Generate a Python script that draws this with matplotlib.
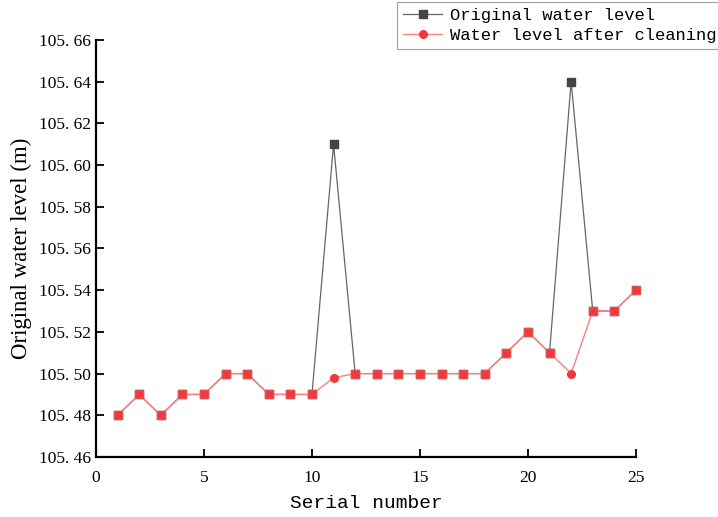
import matplotlib
matplotlib.use("Agg")
import matplotlib.pyplot as plt
import numpy as np

serial = list(range(1, 26))
original = [105.48, 105.49, 105.48, 105.49, 105.49, 105.50, 105.50, 105.49, 105.49, 105.49,
            105.61, 105.50, 105.50, 105.50, 105.50, 105.50, 105.50, 105.50, 105.51, 105.52,
            105.51, 105.64, 105.53, 105.53, 105.54]
cleaned = [105.48, 105.49, 105.48, 105.49, 105.49, 105.50, 105.50, 105.49, 105.49, 105.49,
           105.498, 105.50, 105.50, 105.50, 105.50, 105.50, 105.50, 105.50, 105.51, 105.52,
           105.51, 105.50, 105.53, 105.53, 105.54]
yticks = [105.46, 105.48, 105.50, 105.52, 105.54, 105.56, 105.58, 105.60, 105.62, 105.64, 105.66]
xticks = [0, 5, 10, 15, 20, 25]

fig = plt.figure(figsize=(7.18, 5.17), dpi=100)
ax = fig.add_axes([0.1337, 0.116, 0.752, 0.807])

red = "#f0393f"
ax.plot(serial, original, color="#666666", lw=0.9, marker="s", ms=5.2,
        mfc="#444444", mec="#444444", label="Original water level", zorder=2)
ax.plot(serial, cleaned, color="#ff8080", lw=1.0, marker="o", ms=5.5,
        mfc=red, mec=red, label="Water level after cleaning", zorder=3)
same = [i for i in range(len(serial)) if original[i] == cleaned[i]]
ax.plot([serial[i] for i in same], [cleaned[i] for i in same], ls="none", marker="s",
        ms=5.2, mfc=red, mec="#e05050", zorder=4, clip_on=False)

ax.set_xlim(0, 25)
ax.set_ylim(105.46, 105.66)
ax.set_xticks(xticks)
ax.set_yticks(yticks)
ax.set_yticklabels([("%.2f" % v).replace(".", ". ") for v in yticks])
for lab in ax.get_xticklabels() + ax.get_yticklabels():
    lab.set_family("Liberation Serif")
    lab.set_fontsize(12.5)
ax.tick_params(direction="in", length=6, width=1.3, color="black")
ax.tick_params(axis="x", pad=9)
ax.spines["top"].set_visible(False)
ax.spines["right"].set_visible(False)
ax.spines["left"].set_linewidth(1.6)
ax.spines["bottom"].set_linewidth(1.6)

ax.set_ylabel("Original water level (m)", family="Liberation Serif", fontsize=16.5, labelpad=5)
ax.set_xlabel("Serial number", family="Liberation Mono", fontsize=14, labelpad=7)

h, l = ax.get_legend_handles_labels()
leg = fig.legend(h, l, loc="upper left", bbox_to_anchor=(397 / 718, 1 - 2 / 517),
                 prop={"family": "Liberation Mono", "size": 12.3}, frameon=True,
                 fancybox=False, edgecolor="#888888", borderpad=0.35,
                 handlelength=2.3, handletextpad=0.45, labelspacing=0.3, borderaxespad=0)
leg.get_frame().set_linewidth(0.8)

fig.savefig("out.png", dpi=100)
